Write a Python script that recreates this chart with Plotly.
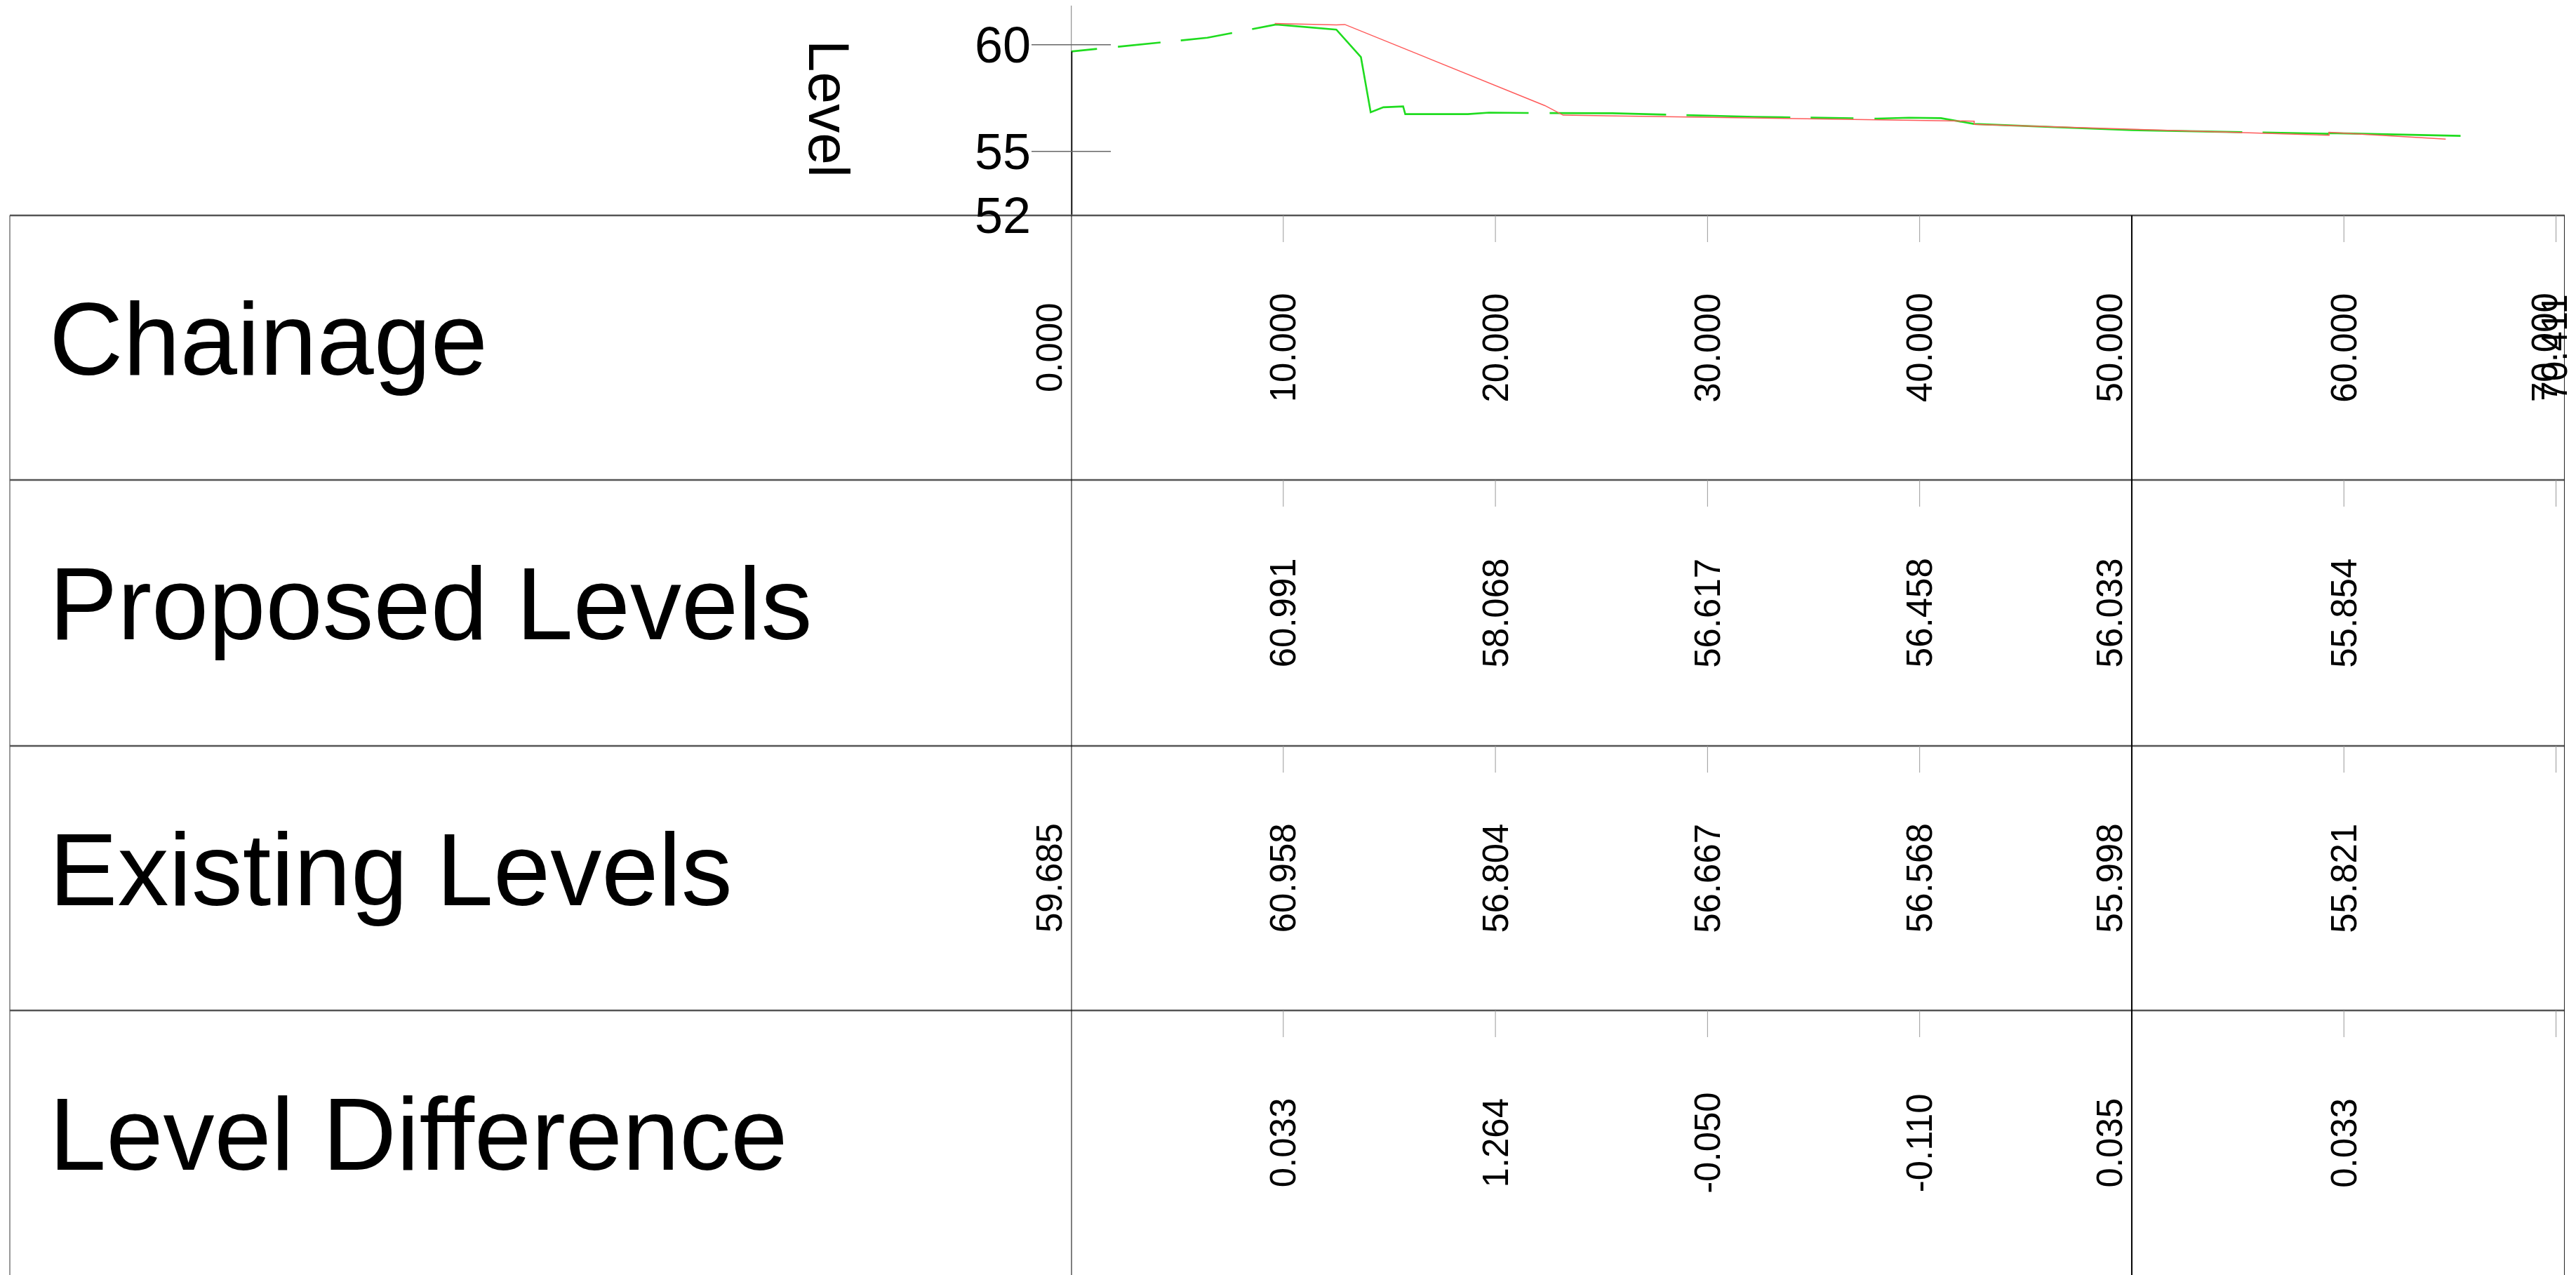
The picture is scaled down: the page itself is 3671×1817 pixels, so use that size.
import plotly.graph_objects as go

# ---------------- data ----------------
existing_ch = [0, 6.42, 9.66, 12.5, 13.66, 14.12, 14.72, 15.65, 15.75, 18.7, 19.7, 21.6, 25.5,
               28.0, 32.2, 38.0, 39.5, 41.0, 42.57, 50.0, 52.0, 59.25, 59.3, 61.76, 65.5]
existing_lv = [59.685, 60.33, 60.95, 60.71, 59.42, 56.84, 57.07, 57.11, 56.75, 56.75, 56.82, 56.80, 56.79,
               56.73, 56.62, 56.54, 56.58, 56.56, 56.29, 55.998, 55.96, 55.83, 55.86, 55.80, 55.73]

proposed_ch = [9.6, 12.5, 12.9, 22.33, 23.19, 42.57, 42.57, 59.3, 59.3, 64.8]
proposed_lv = [60.995, 60.93, 60.95, 57.15, 56.70, 56.42, 56.27, 55.76, 55.90, 55.58]

chainage_ticks = [0, 10, 20, 30, 40, 50, 60, 70]
chainage_end = 70.411
level_stations = [10, 20, 30, 40, 50, 60]
proposed_levels = [60.991, 58.068, 56.617, 56.458, 56.033, 55.854]
existing_stations = [0, 10, 20, 30, 40, 50, 60]
existing_levels = [59.685, 60.958, 56.804, 56.667, 56.568, 55.998, 55.821]
sheet_breaks = [0, 50]
y_ticks = [52, 55, 60]
y_datum = 52
row_titles = ["Chainage", "Proposed Levels", "Existing Levels", "Level Difference"]
y_title = "Level"

# ---------------- layout helpers ----------------
W, H = 3671, 1817
OFF = 8                  # page body margin
FONT = "Liberation Sans, Arial, sans-serif"
X0_PX = 1526.5           # screen pixel of chainage 0
PX_PER_M = 30.229
PX_PER_LV = 30.4
Y_BOT_PX, Y_TOP_PX = 307, OFF
ROW_TOPS = [307, 684, 1063, 1440]
TABLE_LEFT = 14


def pxx(v):
    return (v - OFF) / W


def pxy(v):
    return 1 - (v - OFF) / H


x_end_px = X0_PX + chainage_end * PX_PER_M
y_top = y_datum + (Y_BOT_PX - Y_TOP_PX) / PX_PER_LV

fig = go.Figure()

# existing ground (green, CAD-like dash pattern)
fig.add_trace(go.Scatter(
    x=existing_ch, y=existing_lv, mode="lines",
    line=dict(color="#1fdc1f", width=2.6,
              dash="37px,30px,61px,29px,74px,29px,488px,30px,166px,29px,148px,29px,61px,30px,525px,29px,600px,2000px"),
    hoverinfo="skip", showlegend=False))
# proposed (red)
fig.add_trace(go.Scatter(
    x=proposed_ch, y=proposed_lv, mode="lines",
    line=dict(color="#ff5a5a", width=1.5),
    hoverinfo="skip", showlegend=False))
# thick vertical at start (datum to existing level)
fig.add_trace(go.Scatter(
    x=[existing_stations[0], existing_stations[0]], y=[y_datum, existing_levels[0]], mode="lines",
    line=dict(color="black", width=3.5), hoverinfo="skip", showlegend=False))

shapes = []
annotations = []

# vertical axis line
shapes.append(dict(type="line", xref="x", yref="paper", x0=0, x1=0,
                   y0=1, y1=pxy(Y_BOT_PX), line=dict(color="#333", width=1.3)))
# y tick marks crossing the axis and labels
for t in y_ticks:
    shapes.append(dict(type="line", xref="paper", yref="y", x0=pxx(1470), x1=pxx(1583),
                       y0=t, y1=t, line=dict(color="#666", width=1.5)))
    annotations.append(dict(text=str(t), xref="paper", yref="y", x=pxx(1471), y=t,
                            xanchor="right", yanchor="middle", showarrow=False,
                            font=dict(family=FONT, size=72, color="black")))
annotations.append(dict(text=y_title, xref="paper", yref="paper", x=pxx(1182), y=pxy(155),
                        xanchor="center", yanchor="middle", textangle=90, showarrow=False,
                        font=dict(family=FONT, size=82, color="black")))

# table horizontal lines
for r in ROW_TOPS:
    shapes.append(dict(type="line", xref="paper", yref="paper", x0=pxx(TABLE_LEFT), x1=pxx(x_end_px),
                       y0=pxy(r), y1=pxy(r), line=dict(color="#555", width=2.5)))
# left border
shapes.append(dict(type="line", xref="paper", yref="paper", x0=pxx(TABLE_LEFT), x1=pxx(TABLE_LEFT),
                   y0=pxy(ROW_TOPS[0]), y1=0, line=dict(color="#555", width=1.2)))
# sheet break full-height lines
for s in sheet_breaks:
    shapes.append(dict(type="line", xref="x", yref="paper", x0=s, x1=s,
                       y0=pxy(ROW_TOPS[0]), y1=0, line=dict(color="black", width=2)))
# end line
shapes.append(dict(type="line", xref="x", yref="paper", x0=chainage_end, x1=chainage_end,
                   y0=pxy(ROW_TOPS[0]), y1=0, line=dict(color="#222", width=2)))
# row ticks
for r in ROW_TOPS:
    for c in chainage_ticks:
        if c in sheet_breaks:
            continue
        shapes.append(dict(type="line", xref="x", yref="paper", x0=c, x1=c,
                           y0=pxy(r), y1=pxy(r + 38), line=dict(color="#999", width=1)))

# row titles
for i, title in enumerate(row_titles):
    base = ROW_TOPS[i] + 227
    annotations.append(dict(text=title, xref="paper", yref="paper", x=pxx(68), y=pxy(base - 51),
                            xanchor="left", yanchor="middle", showarrow=False,
                            font=dict(family=FONT, size=146, color="black")))


def shift_for(c):
    if c in sheet_breaks:
        return -31
    if c == chainage_ticks[-1]:
        return -16
    if c == chainage_end:
        return -14
    return 0


def row_label(c, txt, row):
    bottom = ROW_TOPS[row + 1] if row + 1 < len(ROW_TOPS) else 1817
    yc = (ROW_TOPS[row] + bottom) / 2
    annotations.append(dict(text=txt, xref="x", yref="paper", x=c, y=pxy(yc), xshift=shift_for(c),
                            xanchor="center", yanchor="middle", textangle=-90, showarrow=False,
                            font=dict(family=FONT, size=51, color="black")))


for c in chainage_ticks + [chainage_end]:
    row_label(c, f"{c:.3f}", 0)
for c, v in zip(level_stations, proposed_levels):
    row_label(c, f"{v:.3f}", 1)
for c, v in zip(existing_stations, existing_levels):
    row_label(c, f"{v:.3f}", 2)
ex_map = dict(zip(existing_stations, existing_levels))
for c, v in zip(level_stations, proposed_levels):
    d = round(v - ex_map[c], 3)
    row_label(c, f"{d:.3f}", 3)

fig.update_layout(
    width=W, height=H, margin=dict(l=0, r=0, t=0, b=0),
    paper_bgcolor="white", plot_bgcolor="white",
    xaxis=dict(range=[0, chainage_end], domain=[pxx(X0_PX), pxx(x_end_px)], visible=False),
    yaxis=dict(range=[y_datum, y_top], domain=[pxy(Y_BOT_PX), pxy(Y_TOP_PX)], visible=False),
    shapes=shapes, annotations=annotations, showlegend=False,
)

fig.write_html("out.html")
